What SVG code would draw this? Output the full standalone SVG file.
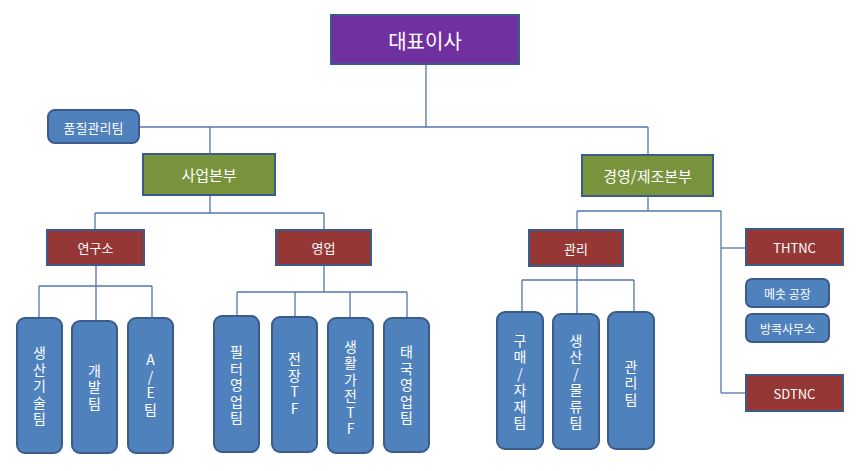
<svg xmlns="http://www.w3.org/2000/svg" width="856" height="471" viewBox="0 0 856 471">
<style>
.box{stroke:#3B5B8C;stroke-width:2}
.purple{fill:#7030A0}
.green{fill:#77933C}
.red{fill:#953735}
.blue{fill:#4F81BD}
.t{font-family:"Noto Sans CJK KR","Noto Sans",sans-serif;fill:#fff;text-anchor:middle;dominant-baseline:central}
.v{font-family:"Noto Sans CJK KR","Noto Sans",sans-serif;fill:#fff;text-anchor:middle;writing-mode:vertical-rl;text-orientation:upright;font-size:14px;letter-spacing:2.5px}
.conn line{stroke:#5276AD;stroke-width:1.3}
</style>
<rect width="856" height="471" fill="#fff"/>
<g class="conn">
<line x1="426" y1="64" x2="426" y2="127"/>
<line x1="139" y1="127" x2="648" y2="127"/>
<line x1="210" y1="127" x2="210" y2="154"/>
<line x1="648" y1="127" x2="648" y2="155"/>
<line x1="210" y1="195" x2="210" y2="213"/>
<line x1="95" y1="213" x2="324" y2="213"/>
<line x1="95" y1="213" x2="95" y2="230"/>
<line x1="324" y1="213" x2="324" y2="230"/>
<line x1="96" y1="265" x2="96" y2="321"/>
<line x1="39" y1="286" x2="152" y2="286"/>
<line x1="39" y1="286" x2="39" y2="318"/>
<line x1="152" y1="286" x2="152" y2="318"/>
<line x1="324" y1="265" x2="324" y2="292"/>
<line x1="237" y1="292" x2="407" y2="292"/>
<line x1="237" y1="292" x2="237" y2="316"/>
<line x1="295" y1="292" x2="295" y2="317"/>
<line x1="350" y1="292" x2="350" y2="318"/>
<line x1="407" y1="292" x2="407" y2="318"/>
<line x1="648" y1="196" x2="648" y2="211"/>
<line x1="577" y1="211" x2="721" y2="211"/>
<line x1="577" y1="211" x2="577" y2="230"/>
<line x1="721" y1="211" x2="721" y2="393"/>
<line x1="721" y1="248" x2="745" y2="248"/>
<line x1="721" y1="393" x2="745" y2="393"/>
<line x1="577" y1="266" x2="577" y2="314"/>
<line x1="522" y1="280" x2="634" y2="280"/>
<line x1="522" y1="280" x2="522" y2="312"/>
<line x1="634" y1="280" x2="634" y2="312"/>
</g>
<g id="ceo"><rect class="box purple" x="331" y="15" width="188" height="49"/><text class="t" x="425" y="40" font-size="20">대표이사</text></g>
<g id="qa"><rect class="box blue" x="48" y="110" width="91" height="33" rx="7"/><text class="t" x="93.5" y="127" font-size="13">품질관리팀</text></g>
<g id="biz"><rect class="box green" x="143" y="154" width="132" height="41"/><text class="t" x="209" y="174.5" font-size="15">사업본부</text></g>
<g id="mgmt"><rect class="box green" x="582" y="155" width="131" height="41"/><text class="t" x="647.5" y="175.5" font-size="15">경영/제조본부</text></g>
<g id="lab"><rect class="box red" x="47" y="230" width="97" height="35"/><text class="t" x="95.5" y="247.5" font-size="13">연구소</text></g>
<g id="sales"><rect class="box red" x="276" y="230" width="95" height="35"/><text class="t" x="323.5" y="247.5" font-size="13">영업</text></g>
<g id="admin"><rect class="box red" x="529" y="230" width="94" height="36"/><text class="t" x="576" y="248" font-size="13">관리</text></g>
<g id="thtnc"><rect class="box red" x="746" y="229" width="97" height="36"/><text class="t" x="794.5" y="247" font-size="13">THTNC</text></g>
<g id="mesot"><rect class="box blue" x="746" y="279" width="83" height="28" rx="6"/><text class="t" x="787.5" y="293" font-size="12">메솟 공장</text></g>
<g id="bkk"><rect class="box blue" x="746" y="314" width="83" height="28" rx="6"/><text class="t" x="787.5" y="328" font-size="12">방콕사무소</text></g>
<g id="sdtnc"><rect class="box red" x="746" y="375" width="97" height="36"/><text class="t" x="794.5" y="393" font-size="13">SDTNC</text></g>
<g id="prodtech"><rect class="box blue" x="17" y="318" width="45" height="135" rx="8"/><text class="v" x="39.5" y="387">생산기술팀</text></g>
<g id="dev"><rect class="box blue" x="72" y="321" width="45" height="132" rx="8"/><text class="v" x="94.5" y="388">개발팀</text></g>
<g id="ae"><rect class="box blue" x="128" y="318" width="45" height="135" rx="8"/><text class="v" x="150.5" y="386">A/E팀</text></g>
<g id="filter"><rect class="box blue" x="214" y="316" width="45" height="136" rx="8"/><text class="v" x="236.5" y="386">필터영업팀</text></g>
<g id="auto"><rect class="box blue" x="272" y="317" width="45" height="135" rx="8"/><text class="v" x="294.5" y="385">전장TF</text></g>
<g id="appl"><rect class="box blue" x="328" y="318" width="45" height="135" rx="8"/><text class="v" x="350.5" y="389">생활가전TF</text></g>
<g id="thai"><rect class="box blue" x="384" y="318" width="45" height="134" rx="8"/><text class="v" x="406.5" y="386">태국영업팀</text></g>
<g id="purchase"><rect class="box blue" x="497" y="312" width="46" height="137" rx="8"/><text class="v" x="520" y="383">구매/자재팀</text></g>
<g id="logistics"><rect class="box blue" x="553" y="314" width="46" height="135" rx="8"/><text class="v" x="576" y="383">생산/물류팀</text></g>
<g id="adminteam"><rect class="box blue" x="608" y="312" width="46" height="137" rx="8"/><text class="v" x="631" y="384">관리팀</text></g>
</svg>
